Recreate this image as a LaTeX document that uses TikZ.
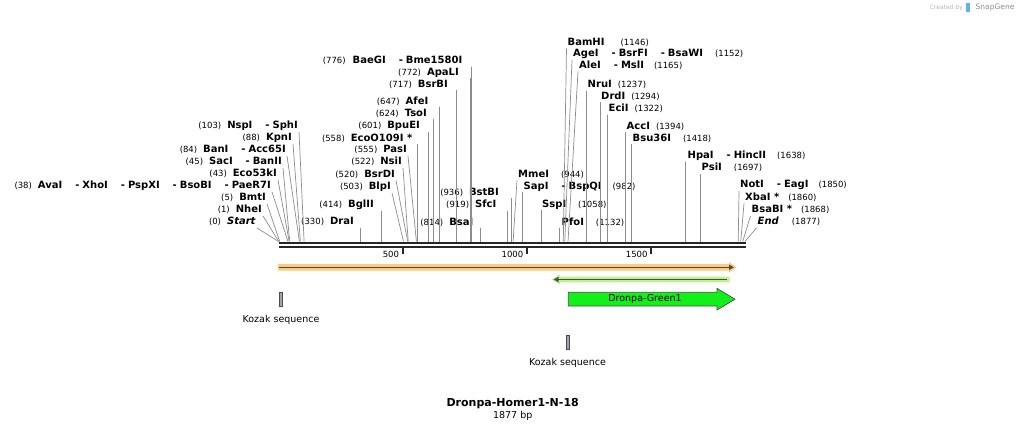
\documentclass[tikz,border=0pt]{standalone}
\usepackage{fontspec}
\setmainfont{DejaVu Sans}
\usetikzlibrary{positioning,arrows.meta,calc}

\definecolor{featorange}{RGB}{252,203,125}
\definecolor{featgreen}{RGB}{190,242,145}
\definecolor{cdsgreen}{RGB}{18,240,26}
\definecolor{kozakgray}{RGB}{160,164,172}
\definecolor{sitegray}{RGB}{140,140,140}
\definecolor{logoblue}{RGB}{90,180,240}

\newcommand{\sitepos}[1]{{\mdseries\fontsize{8.5}{10}\selectfont(#1)}}
\newcommand{\dsep}{\hspace{13pt}-\hspace{3pt}}

\tikzset{
  enzL/.style={anchor=east, inner sep=1pt, text height=7.5pt, text depth=2pt, font=\fontsize{10}{12}\selectfont\bfseries},
  enzR/.style={enzL, anchor=west},
  cutline/.style={draw=sitegray, line width=0.7pt},
  strand/.style={line width=2.4pt, black!85},
  kozak/.style={draw=black!70, fill=kozakgray, minimum width=3.4pt, minimum height=14pt, inner sep=0pt, line width=0.6pt},
  featlbl/.style={font=\fontsize{9.5}{11}\selectfont},
  ticklbl/.style={anchor=east, inner sep=1pt, font=\fontsize{8.5}{10}\selectfont},
}

\begin{document}
\begin{tikzpicture}[x=1pt, y=-1pt]
    \useasboundingbox (0,0) rectangle (1025,431);

    % site positions on the backbone (bp -> x)
    \foreach \n/\b in {start/0, nhe/1, bmt/5, ava/38, ecok/43, sac/45, ban/84, kpn/88, nsp/103,
        dra/330, bgl/414, blp/503, bsrd/520, nsi/522, pas/555, eco/558, bpu/601, tso/624, afe/647,
        bsrb/717, apa/772, bae/776, bsa/814, sfc/919, bstb/936, mme/944, sap/982, ssp/1058,
        pfo/1132, bam/1146, age/1152, ale/1165, nru/1237, drd/1294, eci/1322, acc/1394, bsu/1418,
        hpa/1638, psi/1697, not/1850, xba/1860, bsab/1868, fin/1877}
        \coordinate (s-\n) at ({278.5+0.2485*\b},241.5);

    % backbone
    \coordinate (bbL) at (278.5,242.8);
    \coordinate (bbR) at (745.5,242.8);
    \draw[strand] (bbL) -- (bbR);
    \draw[strand] ($(bbL)+(0,4.4)$) -- ($(bbR)+(0,4.4)$);

    % ruler
    \foreach \t/\x in {500/402.75, 1000/527, 1500/651.25} {
        \coordinate (t\t) at (\x,248);
        \draw[line width=1.6pt, black!85] (t\t) -- ++(0,6);
        \node[ticklbl] (t\t lbl) at ($(t\t)+(-2.5,6.5)$) {\t};
    }

    % enzymes left of the backbone start
    \node[enzL] (start) at (257,222) {\sitepos{0}\hspace{6pt}\textit{Start}};
    \node[enzL] (nhe) at (263,210) {\sitepos{1}\hspace{6pt}NheI};
    \node[enzL] (bmt) at (267,198) {\sitepos{5}\hspace{6pt}BmtI};
    \node[enzL] (ava) at (272,186) {\sitepos{38}\hspace{6pt}AvaI\dsep XhoI\dsep PspXI\dsep BsoBI\dsep PaeR7I};
    \node[enzL] (ecok) at (278,174) {\sitepos{43}\hspace{6pt}Eco53kI};
    \node[enzL] (sac) at (283,162) {\sitepos{45}\hspace{6pt}SacI\dsep BanII};
    \node[enzL] (ban) at (287,150) {\sitepos{84}\hspace{6pt}BanI\dsep Acc65I};
    \node[enzL] (kpn) at (293,138) {\sitepos{88}\hspace{6pt}KpnI};
    \node[enzL] (nsp) at (299,126) {\sitepos{103}\hspace{6pt}NspI\dsep SphI};

    % enzymes in the middle
    \node[enzL] (dra) at (355,222) {\sitepos{330}\hspace{6pt}DraI};
    \node[enzL] (bgl) at (375,205) {\sitepos{414}\hspace{6pt}BglII};
    \node[enzL] (blp) at (392,187) {\sitepos{503}\hspace{6pt}BlpI};
    \node[enzL] (bsrd) at (396,174.5) {\sitepos{520}\hspace{6pt}BsrDI};
    \node[enzL] (nsi) at (403,162) {\sitepos{522}\hspace{6pt}NsiI};
    \node[enzL] (pas) at (408,150) {\sitepos{555}\hspace{6pt}PasI};
    \node[enzL] (eco) at (413.5,138.5) {\sitepos{558}\hspace{6pt}EcoO109I *};
    \node[enzL] (bpu) at (421,126) {\sitepos{601}\hspace{6pt}BpuEI};
    \node[enzL] (tso) at (428,113.5) {\sitepos{624}\hspace{6pt}TsoI};
    \node[enzL] (afe) at (429.5,101.5) {\sitepos{647}\hspace{6pt}AfeI};
    \node[enzL] (bsrb) at (449,84.5) {\sitepos{717}\hspace{6pt}BsrBI};
    \node[enzL] (apa) at (460,72.5) {\sitepos{772}\hspace{6pt}ApaLI};
    \node[enzL] (bae) at (463.5,61) {\sitepos{776}\hspace{7pt}BaeGI\dsep Bme1580I};
    \node[enzL] (bsa) at (474.5,222.5) {\sitepos{814}\hspace{6pt}BsaI};
    \node[enzL] (sfc) at (497.5,205) {\sitepos{919}\hspace{6pt}SfcI};
    \node[enzL] (bstb) at (500,192.5) {\sitepos{936}\hspace{6pt}BstBI};

    % enzymes with labels on the right
    \node[enzR] (mme) at (517,174.5) {MmeI\hspace{12pt}\sitepos{944}};
    \node[enzR] (sap) at (522.5,186.5) {SapI\dsep BspQI\hspace{11pt}\sitepos{982}};
    \node[enzR] (ssp) at (541,204.5) {SspI\hspace{12pt}\sitepos{1058}};
    \node[enzR] (pfo) at (560.5,222.5) {PfoI\hspace{12pt}\sitepos{1132}};
    \node[enzR] (bam) at (566.5,42.5) {BamHI\hspace{16pt}\sitepos{1146}};
    \node[enzR] (age) at (572,54) {AgeI\dsep BsrFI\dsep BsaWI\hspace{12pt}\sitepos{1152}};
    \node[enzR] (ale) at (578,65.5) {AleI\dsep MslI\hspace{10pt}\sitepos{1165}};
    \node[enzR] (nru) at (586.5,85) {NruI\hspace{6pt}\sitepos{1237}};
    \node[enzR] (drd) at (600,96.5) {DrdI\hspace{6pt}\sitepos{1294}};
    \node[enzR] (eci) at (607.5,109) {EciI\hspace{6pt}\sitepos{1322}};
    \node[enzR] (acc) at (625.5,126.5) {AccI\hspace{6pt}\sitepos{1394}};
    \node[enzR] (bsu) at (631.5,138.5) {Bsu36I\hspace{12pt}\sitepos{1418}};
    \node[enzR] (hpa) at (686.5,156) {HpaI\dsep HincII\hspace{11pt}\sitepos{1638}};
    \node[enzR] (psi) at (700.5,168) {PsiI\hspace{12pt}\sitepos{1697}};
    \node[enzR] (not) at (739,185) {NotI\dsep EagI\hspace{10pt}\sitepos{1850}};
    \node[enzR] (xba) at (744,197.5) {XbaI *\hspace{9pt}\sitepos{1860}};
    \node[enzR] (bsab) at (750.5,210) {BsaBI *\hspace{9pt}\sitepos{1868}};
    \node[enzR] (fin) at (756.5,222) {\textit{End}\hspace{13pt}\sitepos{1877}};

    % cut lines
    \foreach \n in {start,nhe,bmt,ava,ecok,sac,ban,kpn,nsp,blp,bsrd,nsi,pas}
        \draw[cutline] (\n.south east) -- (s-\n);
    \foreach \n in {dra,bgl,eco,bpu,tso,afe,bsrb,apa,bae,bsa,sfc,bstb}
        \draw[cutline] (\n.south east -| s-\n) -- (s-\n);
    \foreach \n in {mme,bam,age,ale,not,xba,bsab,fin}
        \draw[cutline] (\n.south west) -- (s-\n);
    \foreach \n in {sap,ssp,pfo,nru,drd,eci,acc,bsu,hpa,psi}
        \draw[cutline] (\n.south west -| s-\n) -- (s-\n);

    % features
    \fill[featorange] (278,264) -- (729,264) -- (729,261.8) -- (736.5,267.3) -- (729,272.8)
        -- (729,270.6) -- (278,270.6) -- cycle;
    \draw[line width=1.3pt, black!70, -{Triangle[length=5pt,width=5pt]}] (279,267.3) -- (734,267.3);

    \fill[featgreen] (729.5,276.6) -- (560,276.6) -- (560,274.4) -- (551.5,279.5) -- (560,284.6)
        -- (560,282.4) -- (729.5,282.4) -- cycle;
    \draw[line width=1.3pt, black!70, -{Triangle[length=5pt,width=5pt]}] (727,279.5) -- (553.5,279.5);

    \draw[fill=cdsgreen, draw=black!70, line width=0.7pt] (568.3,292.3) -- (717,292.3) -- (717,288.3)
        -- (735,299.2) -- (717,310) -- (717,306) -- (568.3,306) -- cycle;
    \node[featlbl] (dronpa) at (645,298.8) {Dronpa-Green1};

    % Kozak sequences
    \node[kozak] (koz1) at (281,299.5) {};
    \node[featlbl, below=5pt of koz1] (koz1lbl) {Kozak sequence};
    \node[kozak] (koz2) at (567.5,342.2) {};
    \node[featlbl, below=5pt of koz2] (koz2lbl) {Kozak sequence};

    % title
    \node[font=\fontsize{11}{13}\selectfont\bfseries, inner sep=1pt] (title) at (512.7,403.5) {Dronpa-Homer1-N-18};
    \node[font=\fontsize{9.5}{11}\selectfont, inner sep=1pt, below=0pt of title] (len) {1877 bp};

    % credit
    \node[anchor=east, inner sep=0pt, text=black!30, font=\fontsize{6}{7}\selectfont] (created) at (963,7.5) {Created by};
    \fill[logoblue] (966,3) rectangle (969.5,12);
    \node[anchor=west, inner sep=0pt, text=black!45, font=\fontsize{7.5}{9}\selectfont] (snapgene) at (975.5,7.5) {SnapGene};
\end{tikzpicture}
\end{document}
